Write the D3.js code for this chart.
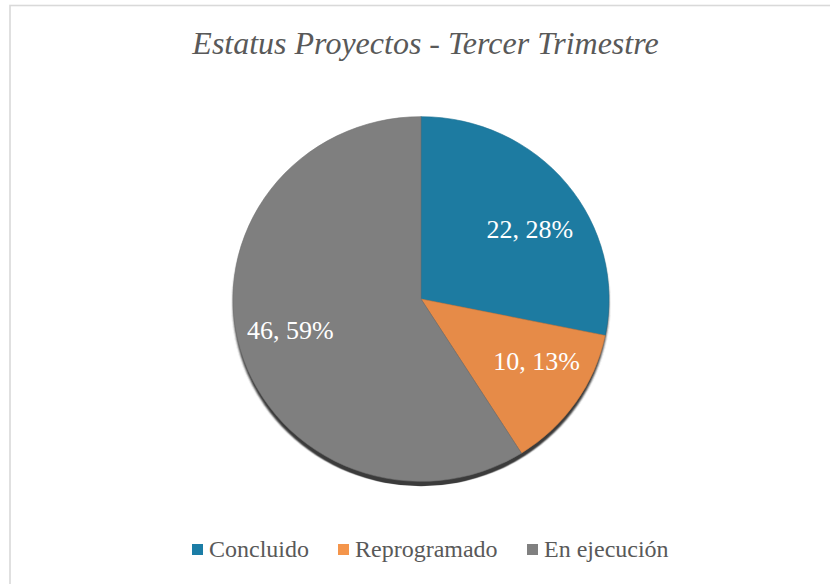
<!DOCTYPE html>
<html>
	<head>
		<meta charset="utf-8">
		<title>Estatus Proyectos - Tercer Trimestre</title>
		<script src="https://cdn.jsdelivr.net/npm/d3@7/dist/d3.min.js"></script>
		<style>
			body { margin: 0; background: #fff; }
		</style>
	</head>
	<body>
		<script>

			// Data
			var categories = ["Concluido", "Reprogramado", "En ejecución"];
			var values = [22, 10, 46];
			var sliceColors = ["#1d7ba1", "#e68b48", "#7f7f7f"];
			var legendColors = ["#1b7da6", "#f4954b", "#808080"];

			var w = 830;
			var h = 584;
			var cx = 421, cy = 299;
			var R = 188;
			var squash = 0.97;   // the pie is a touch flatter than round
			var serif = "'Liberation Serif'";

			var total = d3.sum(values);
			var dataset = categories.map(function(c, i) {
				return { name: c, value: values[i], color: sliceColors[i], legend: legendColors[i] };
			});

			var svg = d3.select("body")
						.append("svg")
						.attr("width", w)
						.attr("height", h);

			// chart area border (runs off right and bottom)
			svg.append("rect")
				.attr("x", 10)
				.attr("y", 5.5)
				.attr("width", w + 20)
				.attr("height", h + 20)
				.attr("fill", "#fff")
				.attr("stroke", "#d9d9d9")
				.attr("stroke-width", 1.6);

			// title
			svg.append("text")
				.attr("x", 425.5)
				.attr("y", 54)
				.attr("text-anchor", "middle")
				.style("font-family", serif)
				.style("font-style", "italic")
				.style("font-size", "32px")
				.attr("fill", "#595959")
				.text("Estatus Proyectos - Tercer Trimestre");

			var pie = d3.pie()
						.sort(null)
						.value(function(d) { return d.value; });

			var arc = d3.arc().innerRadius(0).outerRadius(R);
			var labelArc = d3.arc().innerRadius(1).outerRadius(1);

			var defs = svg.append("defs");
			defs.append("filter")
				.attr("id", "soft")
				.append("feGaussianBlur")
				.attr("stdDeviation", 0.8);

			var pieG = svg.append("g")
						.attr("transform", "translate(" + cx + "," + cy + ") scale(1," + squash + ")");

			// drop shadow under the pie
			pieG.append("circle")
				.attr("cx", 0)
				.attr("cy", 5)
				.attr("r", R)
				.attr("fill", "#3a3a3a")
				.attr("filter", "url(#soft)");

			pieG.selectAll("path.slice")
				.data(pie(dataset))
				.enter()
				.append("path")
				.attr("class", "slice")
				.attr("d", arc)
				.attr("fill", function(d) { return d.data.color; })
				.attr("stroke", function(d) { return d3.color(d.data.color).darker(0.3); })
				.attr("stroke-width", 0.6);

			// data labels sit on a flattened ring inside the slices
			var labelRx = 138, labelRy = 110;
			svg.selectAll("text.lbl")
				.data(pie(dataset))
				.enter()
				.append("text")
				.attr("class", "lbl")
				.attr("x", function(d) { return cx + 2 + labelArc.centroid(d)[0] * labelRx; })
				.attr("y", function(d) { return cy + labelArc.centroid(d)[1] * labelRy + 9; })
				.attr("text-anchor", "middle")
				.style("font-family", serif)
				.style("font-size", "26px")
				.attr("fill", "#fff")
				.text(function(d) {
					return d.data.value + ", " + Math.round(d.data.value / total * 100) + "%";
				});

			// legend
			var legendX = [192, 338, 527];
			var legend = svg.selectAll("g.leg")
							.data(dataset)
							.enter()
							.append("g")
							.attr("class", "leg")
							.attr("transform", function(d, i) { return "translate(" + legendX[i] + ",544)"; });

			legend.append("rect")
				.attr("width", 11)
				.attr("height", 11)
				.attr("fill", function(d) { return d.legend; });

			legend.append("text")
				.attr("x", 17)
				.attr("y", 13)
				.style("font-family", serif)
				.style("font-size", "24px")
				.attr("fill", "#595959")
				.text(function(d) { return d.name; });

		</script>
	</body>
</html>
